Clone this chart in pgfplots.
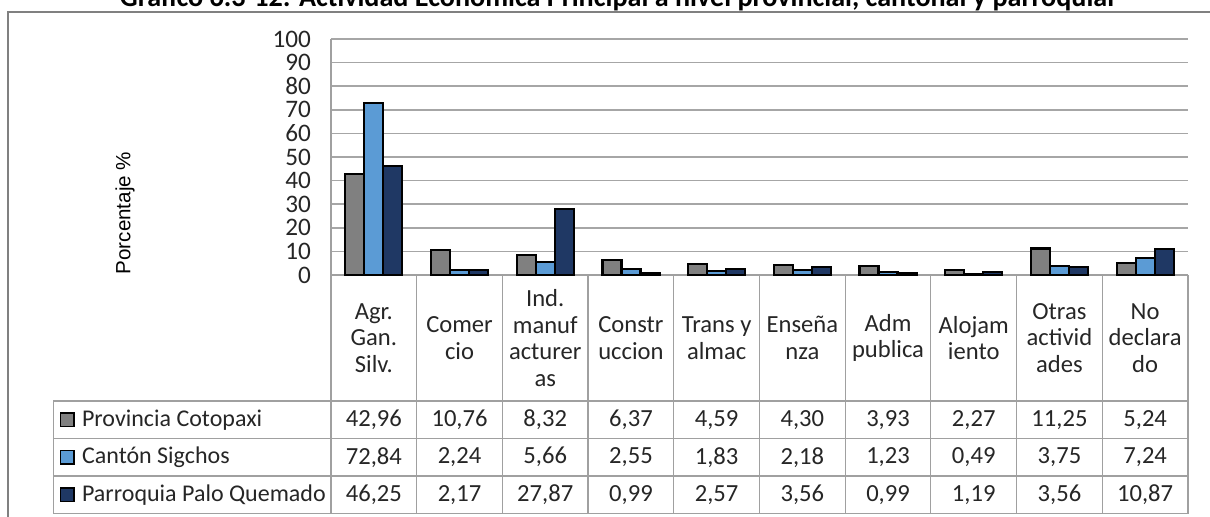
\documentclass[border=0pt]{standalone}
\usepackage{fontspec}
\setmainfont{Carlito}
\newfontfamily\arialfont{Liberation Sans}
\usepackage{graphicx}
\usepackage{pgfplots}
\pgfplotsset{compat=1.18}
\usepackage{pgfplotstable}
\definecolor{cgray}{HTML}{808080}
\definecolor{cblue}{HTML}{5B9BD5}
\definecolor{cnavy}{HTML}{1F3864}
\definecolor{gridc}{HTML}{A6A6A6}
\definecolor{tabc}{HTML}{A0A0A0}
\definecolor{txt}{HTML}{262626}

\pgfplotstableread{
x prov cant parr
0.5 42.96 72.84 46.25
1.5 10.76 2.24 2.17
2.5 8.32 5.66 27.87
3.5 6.37 2.55 0.99
4.5 4.59 1.83 2.57
5.5 4.30 2.18 3.56
6.5 3.93 1.23 0.99
7.5 2.27 0.49 1.19
8.5 11.25 3.75 3.56
9.5 5.24 7.24 10.87
}\datatab

\pgfplotsset{
  valrow/.style={only marks, mark=*, mark size=0pt, draw=none,
    point meta=explicit,
    nodes near coords={\pgfmathprintnumber[fixed, fixed zerofill, precision=2, use comma, assume math mode=true]{\pgfplotspointmeta}},
    every node near coord/.append style={anchor=center, inner sep=0pt, text=txt, font=\fontsize{12.3}{14}\selectfont}},
}

\begin{document}
\begin{tikzpicture}
\begin{axis}[
  scale only axis, width=428.5pt, height=118pt,
  xmin=0, xmax=10, ymin=0, ymax=100,
  clip=false,
  axis x line*=bottom, axis y line*=left,
  axis line style={tabc, line width=0.75pt},
  ytick={0,10,...,100},
  ymajorgrids, grid style={gridc, line width=0.75pt},
  major tick length=0pt,
  xtick={0.5,1.5,...,9.5},
  xticklabels={{Agr.\\Gan.\\Silv.},{Comer\\cio},{Ind.\\manuf\\acturer\\as},{Constr\\uccion},{Trans y\\almac},{Enseña\\nza},{Adm\\publica},{Alojam\\iento},{Otras\\activid\\ades},{No\\declara\\do}},
  xticklabel style={align=center, anchor=center, yshift=-31.5pt, text=txt, font=\fontsize{12.3}{13.35}\selectfont},
  yticklabel style={xshift=-6.5pt, text=txt, font=\fontsize{12.6}{14}\selectfont},
  /pgf/number format/assume math mode=true,
]
% bars
\addplot[ybar, bar width=9.5pt, bar shift=-9.5pt, fill=cgray, draw=black, line width=1.1pt] table[x=x,y=prov]{\datatab};
\addplot[ybar, bar width=9.5pt, bar shift=0pt, fill=cblue, draw=black, line width=1.1pt] table[x=x,y=cant]{\datatab};
\addplot[ybar, bar width=9.5pt, bar shift=9.5pt, fill=cnavy, draw=black, line width=1.1pt] table[x=x,y=parr]{\datatab};

% data table values
\addplot[valrow] table[x=x, y expr=-61.33, meta=prov]{\datatab};
\addplot[valrow] table[x=x, y expr=-77.22, meta=cant]{\datatab};
\addplot[valrow] table[x=x, y expr=-93.11, meta=parr]{\datatab};

% table grid
\draw[tabc, line width=0.6pt] (axis cs:-3.240,-53.39) -- (axis cs:10,-53.39);
\draw[tabc, line width=0.6pt] (axis cs:-3.240,-69.28) -- (axis cs:10,-69.28);
\draw[tabc, line width=0.6pt] (axis cs:-3.240,-85.17) -- (axis cs:10,-85.17);
\draw[tabc, line width=0.6pt] (axis cs:-3.240,-101.06) -- (axis cs:10,-101.06);
\draw[tabc, line width=0.6pt] (axis cs:-3.240,-53.39) -- (axis cs:-3.240,-101.06);
\pgfplotsinvokeforeach{0,...,10}{\draw[tabc, line width=0.6pt] (axis cs:#1,0) -- (axis cs:#1,-101.06);}

% legend keys and names
\node[draw=black, fill=cgray, minimum size=6.8pt, inner sep=0pt, line width=0.8pt] at (axis cs:-3.075,-61.33) {};
\node[draw=black, fill=cblue, minimum size=6.8pt, inner sep=0pt, line width=0.8pt] at (axis cs:-3.075,-77.22) {};
\node[draw=black, fill=cnavy, minimum size=6.8pt, inner sep=0pt, line width=0.8pt] at (axis cs:-3.075,-93.11) {};
\node[anchor=west, inner sep=0pt, text=txt, font=\fontsize{12}{14}\selectfont] at (axis cs:-2.909,-61.33) {Provincia Cotopaxi};
\node[anchor=west, inner sep=0pt, text=txt, font=\fontsize{12}{14}\selectfont] at (axis cs:-2.909,-77.22) {Cantón Sigchos};
\node[anchor=west, inner sep=0pt, text=txt, font=\fontsize{12}{14}\selectfont] at (axis cs:-2.909,-93.11) {Parroquia Palo Quemado};

% y label
\node[rotate=90, text=black, font=\arialfont\fontsize{10.3}{12}\selectfont] at (axis cs:-2.404,26.27) {Porcentaje \%};

% outer frame
\draw[gray, line width=0.75pt] (axis cs:-3.769,-108) -- (axis cs:-3.769,111.4) -- (axis cs:10.6,111.4);

% title (cut at the top as in the reference)
\node[anchor=base, inner sep=0pt, font=\bfseries] at (axis cs:3.337,113.9) {\resizebox{497pt}{!}{Gráfico 6.3-12: Actividad Económica Principal a nivel provincial, cantonal y parroquial}};

\coordinate (bbsw) at (axis cs:-3.8623,-102.12);
\coordinate (bbne) at (axis cs:10.2567,116.53);
\end{axis}
\pgfresetboundingbox
\path[use as bounding box] (bbsw) rectangle (bbne);
\end{tikzpicture}
\end{document}
